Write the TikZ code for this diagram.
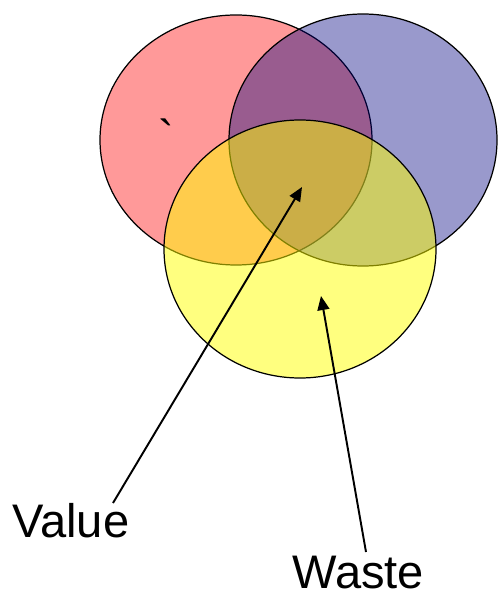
\documentclass[tikz,border=0pt]{standalone}
\usepackage{fontspec}
\setmainfont{Liberation Sans}
\newfontfamily\tickfont{Liberation Sans}[Ligatures=ResetAll]
\usepackage{tikz}
\usetikzlibrary{arrows.meta}
\definecolor{setred}{RGB}{255,0,0}
\definecolor{setblue}{RGB}{0,0,128}
\definecolor{setyellow}{RGB}{255,255,0}
\tikzset{
  setring/.style={draw=black, line width=0.7pt, fill opacity=#1},
  lbl/.style={font=\fontsize{26.8}{30}\selectfont, inner sep=0pt},
  pointer/.style={-{Triangle[length=8pt,width=6.8pt]}, line width=1.1pt, black},
}
\begin{document}
\begin{tikzpicture}[x=0.02cm,y=-0.02cm]
  \useasboundingbox (0,0) rectangle (498,594);
  % three overlapping sets
  \filldraw[setring=0.4, fill=setred] (236,140) ellipse [x radius=136, y radius=125];
  \filldraw[setring=0.4, fill=setblue] (363,140) ellipse [x radius=134, y radius=126];
  \filldraw[setring=0.5, fill=setyellow] (300,249) ellipse [x radius=136, y radius=129];
  \node[lbl, font=\tickfont\fontsize{26.8}{30}\selectfont, anchor=north] (tick) at (166,118) {\char"60};
  % labels and pointers
  \node[lbl, anchor=base west] (value) at (12,537) {Value};
  \node[lbl, anchor=base west] (waste) at (292,588) {Waste};
  \coordinate (valueFoot) at (113,503);
  \coordinate (valueTip) at (302,187);
  \coordinate (wasteFoot) at (366,552);
  \coordinate (wasteTip) at (321,296);
  \draw[pointer] (valueFoot) -- (valueTip);
  \draw[pointer] (wasteFoot) -- (wasteTip);
\end{tikzpicture}
\end{document}
